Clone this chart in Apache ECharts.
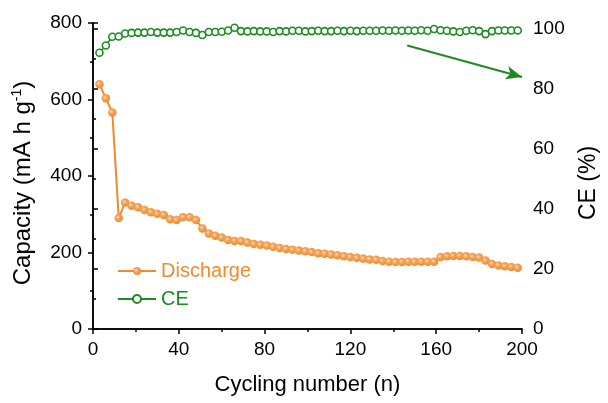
<!DOCTYPE html>
<html>
<head>
<meta charset="utf-8">
<script src="https://cdn.jsdelivr.net/npm/echarts@6/dist/echarts.min.js"></script>
<style>
  html, body { margin: 0; padding: 0; background: #fff; }
  #chart { width: 608px; height: 403px; }
</style>
</head>
<body>
<div id="chart"></div>
<script>
// Cycle numbers at which capacity and coulombic efficiency were recorded
const cycles = [3, 6, 9, 12, 15, 18, 21, 24, 27, 30, 33, 36, 39, 42, 45, 48, 51, 54, 57, 60,
  63, 66, 69, 72, 75, 78, 81, 84, 87, 90, 93, 96, 99, 102, 105, 108, 111, 114, 117, 120,
  123, 126, 129, 132, 135, 138, 141, 144, 147, 150, 153, 156, 159, 162, 165, 168, 171, 174,
  177, 180, 183, 186, 189, 192, 195, 198];

// Discharge capacity (mA h g-1)
const discharge = [640, 603, 566, 290, 331, 322, 318, 311, 305, 301, 298, 287, 285, 292, 292,
  285, 263, 250, 244, 239, 233, 230, 230, 226, 222, 220, 218, 215, 212, 209, 207, 205, 203,
  201, 198, 197, 195, 193, 190, 188, 186, 184, 182, 181, 178, 176, 175, 175, 176, 176, 176,
  176, 176, 188, 190, 191, 191, 190, 188, 187, 179, 170, 166, 164, 162, 160];

// Coulombic efficiency (%)
const ce = [92.1, 94.5, 97.4, 97.5, 98.5, 98.7, 98.8, 98.8, 99.0, 98.8, 98.8, 98.8, 99.0, 99.5,
  99.0, 98.7, 98.0, 99.0, 99.0, 99.1, 99.5, 100.4, 99.3, 99.2, 99.3, 99.2, 99.2, 99.0, 99.3,
  99.2, 99.4, 99.4, 99.2, 99.3, 99.4, 99.3, 99.3, 99.4, 99.3, 99.4, 99.3, 99.4, 99.4, 99.4,
  99.5, 99.4, 99.5, 99.4, 99.5, 99.4, 99.6, 99.4, 100.0, 99.6, 99.4, 99.2, 99.0, 99.4, 99.6,
  99.3, 98.3, 99.3, 99.5, 99.5, 99.5, 99.5];

// Tick values for the three axes
const xTicks = [0, 40, 80, 120, 160, 200];
const capTicks = [0, 200, 400, 600, 800];
const ceTicks = [0, 20, 40, 60, 80, 100];

// Arrow pointing from the CE curve towards the right-hand axis: [cycle, CE %]
const arrowFrom = [146.5, 94.5];
const arrowTo = [200, 84];

const ORANGE = '#EF8A2E';
const GREEN = '#1E8A22';
const FONT = 'Liberation Sans';

const chart = echarts.init(document.getElementById('chart'), null, { renderer: 'canvas' });

const axisCommon = {
  axisLine: { show: true, lineStyle: { color: '#000', width: 1.5 } },
  axisTick: { show: true, inside: false, length: 5, lineStyle: { color: '#000', width: 1.5 } },
  minorTick: { show: true, splitNumber: 2, length: 3, lineStyle: { color: '#000', width: 1.5 } },
  splitLine: { show: false },
  axisLabel: { color: '#000', fontSize: 19, fontFamily: FONT, margin: 11 },
  nameTextStyle: { color: '#000', fontSize: 22, fontFamily: FONT }
};

chart.setOption({
  backgroundColor: '#fff',
  animation: false,
  grid: { left: 93, top: 23, width: 436, height: 306, containLabel: false },
  legend: {
    orient: 'vertical',
    left: 112,
    top: 256,
    itemGap: 8,
    itemWidth: 38,
    itemHeight: 10,
    textStyle: { fontSize: 20, fontFamily: FONT },
    data: [
      { name: 'Discharge', textStyle: { color: ORANGE } },
      { name: 'CE', textStyle: { color: GREEN } }
    ]
  },
  xAxis: [
    Object.assign({}, axisCommon, {
      type: 'value',
      min: xTicks[0],
      max: xTicks[xTicks.length - 1],
      interval: xTicks[1] - xTicks[0],
      name: 'Cycling number (n)',
      nameLocation: 'middle',
      nameGap: 45,
      nameTextStyle: { color: '#000', fontSize: 22, fontFamily: FONT }
    }),
    {
      type: 'value', position: 'top', min: 0, max: 200,
      axisLine: { show: true, lineStyle: { color: '#000', width: 1.5 } },
      axisTick: { show: false }, axisLabel: { show: false }, splitLine: { show: false }
    }
  ],
  yAxis: [
    Object.assign({}, axisCommon, {
      type: 'value',
      min: capTicks[0],
      max: capTicks[capTicks.length - 1],
      interval: capTicks[1] - capTicks[0],
      name: '{a|Capacity (mA h g}{s|-1}{a|)}',
      nameLocation: 'middle',
      nameGap: 56,
      nameTextStyle: {
        color: '#000', fontFamily: FONT,
        padding: [0, 14, 0, 0],
        rich: {
          a: { fontSize: 24, fontFamily: FONT, color: '#000', lineHeight: 27 },
          s: { fontSize: 14, fontFamily: FONT, color: '#000', lineHeight: 27, verticalAlign: 'top', padding: [0, 0, 10, 0] }
        }
      }
    }),
    Object.assign({}, axisCommon, {
      type: 'value',
      position: 'right',
      min: ceTicks[0],
      max: 102,
      interval: ceTicks[1] - ceTicks[0],
      name: 'CE (%)',
      nameLocation: 'middle',
      nameGap: 55,
      nameRotate: 90,
      nameTextStyle: { color: '#000', fontSize: 23, fontFamily: FONT, padding: [0, 14, 0, 0] },
      axisLabel: {
        color: '#000', fontSize: 19, fontFamily: FONT, margin: 11,
        formatter: v => (ceTicks.indexOf(v) >= 0 ? String(v) : '')
      }
    })
  ],
  series: [
    {
      name: 'Discharge',
      type: 'line',
      xAxisIndex: 0,
      yAxisIndex: 0,
      data: cycles.map((c, i) => [c, discharge[i]]),
      symbol: 'circle',
      symbolSize: 8.5,
      lineStyle: { color: ORANGE, width: 2 },
      itemStyle: {
        color: new echarts.graphic.RadialGradient(0.4, 0.4, 0.6, [
          { offset: 0, color: '#FBE3C8' },
          { offset: 0.35, color: '#F4A862' },
          { offset: 1, color: ORANGE }
        ]),
        borderWidth: 0
      },
      z: 3
    },
    {
      name: 'CE',
      type: 'line',
      xAxisIndex: 0,
      yAxisIndex: 1,
      data: cycles.map((c, i) => [c, ce[i]]),
      symbol: 'circle',
      symbolSize: 7,
      showAllSymbol: true,
      lineStyle: { color: GREEN, width: 1.5 },
      itemStyle: { color: '#fff', borderColor: GREEN, borderWidth: 1.6 },
      markLine: {
        silent: true,
        symbol: ['none', 'arrow'],
        symbolSize: [10, 16],
        label: { show: false },
        lineStyle: { color: GREEN, width: 2, type: 'solid' },
        data: [[{ coord: arrowFrom }, { coord: arrowTo }]]
      },
      z: 4
    }
  ]
});
</script>
</body>
</html>
